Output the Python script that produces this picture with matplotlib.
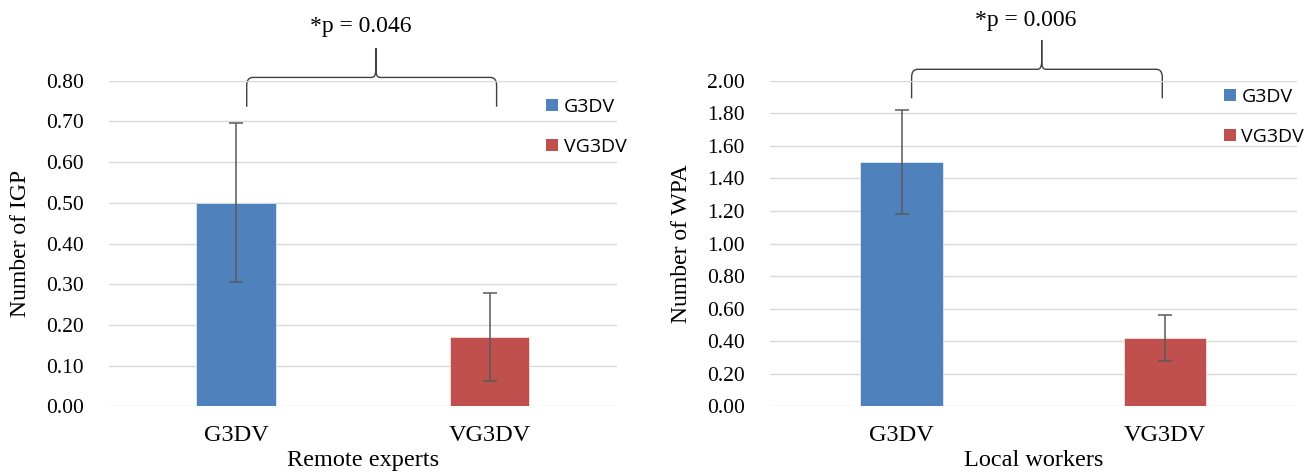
import numpy as np
import matplotlib.pyplot as plt
from matplotlib.patches import Patch, PathPatch
from matplotlib.path import Path

# mean counts per condition, with the half-length of each error bar
categories = ["G3DV", "VG3DV"]
igp_means = [0.50, 0.17]
igp_err = [0.195, 0.108]
wpa_means = [1.50, 0.42]
wpa_err = [0.32, 0.14]

igp_ticks = np.arange(0, 0.81, 0.1)
wpa_ticks = np.arange(0, 2.01, 0.2)

colors = ["#4F81BD", "#C0504D"]
serif = "Liberation Serif"
sans = "Open Sans"

fig = plt.figure(figsize=(13.13, 4.73), dpi=100)


def brace(ax, x0, x1, xm, y_bot, y_h, y_tip):
    # curly bracket drawn in data units, corner radii given in pixels
    bb = ax.get_window_extent()
    xl, yl = ax.get_xlim(), ax.get_ylim()
    px_x = bb.width / (xl[1] - xl[0])
    px_y = bb.height / (yl[1] - yl[0])
    rx, ry = 6 / px_x, 8 / px_y
    tx, ty = 4 / px_x, 8 / px_y
    verts = [(x0, y_bot), (x0, y_h - ry), (x0, y_h), (x0 + rx, y_h),
             (xm - tx, y_h), (xm, y_h), (xm, y_h + ty), (xm, y_tip),
             (xm, y_h + ty), (xm, y_h), (xm + tx, y_h),
             (x1 - rx, y_h), (x1, y_h), (x1, y_h - ry), (x1, y_bot)]
    codes = [Path.MOVETO, Path.LINETO, Path.CURVE3, Path.CURVE3,
             Path.LINETO, Path.CURVE3, Path.CURVE3, Path.LINETO,
             Path.LINETO, Path.CURVE3, Path.CURVE3,
             Path.LINETO, Path.CURVE3, Path.CURVE3, Path.LINETO]
    ax.add_patch(PathPatch(Path(verts, codes), fill=False, edgecolor="#404040",
                           lw=1.0, clip_on=False))


def panel(rect, means, errs, ticks, ylabel, xlabel, ptext, br, leg_anchor):
    ax = fig.add_axes(rect)
    x = np.arange(len(categories))
    ax.bar(x, means, width=0.3125, color=colors, edgecolor="white", linewidth=0.4,
           zorder=2)
    ax.errorbar(x, means, yerr=errs, fmt="none", ecolor="#595959", elinewidth=1.1,
                capsize=5, capthick=1.1, zorder=3)
    ax.set_xlim(-0.5, 1.5)
    ax.set_ylim(0, ticks[-1])
    ax.set_yticks(ticks)
    ax.set_yticklabels([f"{t:.2f}" for t in ticks], fontfamily=serif, fontsize=15.5)
    ax.set_xticks(x)
    ax.set_xticklabels(categories, fontfamily=serif, fontsize=17.5)
    ax.tick_params(length=0)
    ax.tick_params(axis="y", pad=18)
    ax.tick_params(axis="x", pad=13)
    ax.grid(axis="y", color="#D9D9D9", lw=1.0, zorder=0)
    for s in ax.spines.values():
        s.set_visible(False)
    ax.set_ylabel(ylabel, fontfamily=serif, fontsize=17, labelpad=11)
    ax.set_xlabel(xlabel, fontfamily=serif, fontsize=17.5, labelpad=3)

    x0, x1, xm, yb, yh, yt, yp = br
    top = ticks[-1]
    brace(ax, x0, x1, xm, yb * top, yh * top, yt * top)
    ax.text(xm - 0.06, yp * top, ptext, fontfamily=serif, fontsize=17,
            ha="center", va="baseline")

    handles = [Patch(facecolor=c, label=l) for c, l in zip(colors, categories)]
    ax.legend(handles=handles, loc="upper left", bbox_to_anchor=leg_anchor,
              frameon=False, prop={"family": sans, "size": 14},
              handlelength=0.6, handleheight=0.6, handletextpad=0.3,
              labelspacing=1.15, borderpad=0, borderaxespad=0)
    return ax


panel([0.0832, 0.1406, 0.3864, 0.6888], igp_means, igp_err, igp_ticks,
      "Number of IGP", "Remote experts", "*p = 0.046",
      (0.042, 1.027, 0.551, 0.92, 1.01, 1.10, 1.15), (0.861, 0.948))
panel([0.5864, 0.1406, 0.4011, 0.6888], wpa_means, wpa_err, wpa_ticks,
      "Number of WPA", "Local workers", "*p = 0.006",
      (0.038, 0.990, 0.532, 0.946, 1.035, 1.125, 1.168), (0.862, 0.979))

fig.savefig("out.png", dpi=100)
